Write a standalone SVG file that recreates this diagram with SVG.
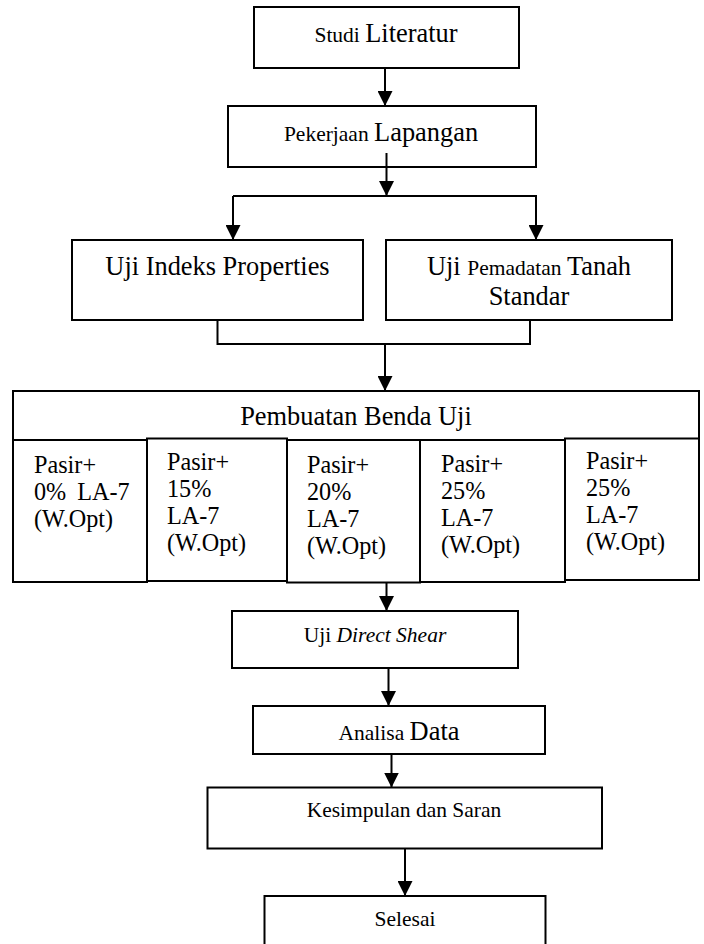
<svg xmlns="http://www.w3.org/2000/svg" width="704" height="944" viewBox="0 0 704 944">
<style>
rect{fill:#fff;stroke:#000;stroke-width:2}
text{font-family:"Liberation Serif","Times New Roman",serif;fill:#000}
.c{text-anchor:middle}
.L{font-size:26.4px}
.S{font-size:21.5px}
.M{font-size:24.2px}
.ln{fill:none;stroke:#000;stroke-width:2}
</style>
<defs>
<marker id="ah" markerUnits="userSpaceOnUse" markerWidth="15" markerHeight="15" viewBox="0 0 15 15" refX="15" refY="7.5" orient="auto">
<path d="M0,0 L15,7.5 L0,15 z" fill="#000"/>
</marker>
</defs>
<rect x="0" y="0" width="704" height="944" style="stroke:none;fill:#fff"/>
<g id="n1"><rect x="254" y="7" width="265" height="61"/><text class="c" x="386" y="42"><tspan class="S">Studi </tspan><tspan class="L">Literatur</tspan></text></g>
<g id="n2"><rect x="228" y="106" width="308" height="61"/><text class="c" x="381" y="141"><tspan class="S">Pekerjaan </tspan><tspan class="L">Lapangan</tspan></text></g>
<g id="n3"><rect x="72" y="240" width="291" height="80"/><text class="c L" x="217.5" y="275">Uji Indeks Properties</text></g>
<g id="n4"><rect x="386" y="240" width="286" height="80"/><text class="c" x="529" y="275"><tspan class="L">Uji </tspan><tspan class="S">Pemadatan </tspan><tspan class="L">Tanah</tspan></text><text class="c L" x="529" y="305">Standar</text></g>
<g id="n5">
<rect x="13" y="391" width="686" height="49"/>
<text class="c L" x="356" y="425">Pembuatan Benda Uji</text>
<rect x="13" y="440" width="134" height="142"/>
<rect x="147" y="438.5" width="140" height="142.5"/>
<rect x="287" y="440" width="133" height="142.5"/>
<rect x="420" y="440" width="145" height="142"/>
<rect x="565" y="438.5" width="134" height="141.5"/>
<text class="M" x="34" y="472.5"><tspan x="34">Pasir+</tspan><tspan x="34" dy="27" style="word-spacing:5px">0% LA-7</tspan><tspan x="34" dy="27">(W.Opt)</tspan></text>
<text class="M" x="167" y="470"><tspan x="167">Pasir+</tspan><tspan x="167" dy="27">15%</tspan><tspan x="167" dy="27">LA-7</tspan><tspan x="167" dy="27">(W.Opt)</tspan></text>
<text class="M" x="307" y="472.5"><tspan x="307">Pasir+</tspan><tspan x="307" dy="27">20%</tspan><tspan x="307" dy="27">LA-7</tspan><tspan x="307" dy="27">(W.Opt)</tspan></text>
<text class="M" x="441" y="471.5"><tspan x="441">Pasir+</tspan><tspan x="441" dy="27">25%</tspan><tspan x="441" dy="27">LA-7</tspan><tspan x="441" dy="27">(W.Opt)</tspan></text>
<text class="M" x="586" y="469"><tspan x="586">Pasir+</tspan><tspan x="586" dy="27">25%</tspan><tspan x="586" dy="27">LA-7</tspan><tspan x="586" dy="27">(W.Opt)</tspan></text>
</g>
<g id="n6"><rect x="232" y="611" width="286" height="57"/><text class="c S" x="375" y="641.5">Uji <tspan font-style="italic">Direct Shear</tspan></text></g>
<g id="n7"><rect x="253" y="706" width="292" height="48"/><text class="c" x="399" y="740"><tspan class="S">Analisa </tspan><tspan class="L">Data</tspan></text></g>
<g id="n8"><rect x="207.5" y="787.5" width="394.5" height="61"/><text class="c S" x="404" y="817">Kesimpulan dan Saran</text></g>
<g id="n9"><rect x="264.5" y="896" width="281" height="60"/><text class="c S" x="405" y="925.5">Selesai</text></g>
<g id="connectors">
<path class="ln" d="M385,68 V106" marker-end="url(#ah)"/>
<path class="ln" d="M386.5,153 V196" marker-end="url(#ah)"/>
<path class="ln" d="M233,196 V240" marker-end="url(#ah)"/>
<path class="ln" d="M233,196 H536 V240" marker-end="url(#ah)"/>
<path class="ln" d="M217.5,320 V344 H530 V320"/>
<path class="ln" d="M385,344 V391" marker-end="url(#ah)"/>
<path class="ln" d="M386.5,582 V611" marker-end="url(#ah)"/>
<path class="ln" d="M388.5,668 V706" marker-end="url(#ah)"/>
<path class="ln" d="M391.5,754 V787.5" marker-end="url(#ah)"/>
<path class="ln" d="M405,848.5 V896" marker-end="url(#ah)"/>
</g>
</svg>
